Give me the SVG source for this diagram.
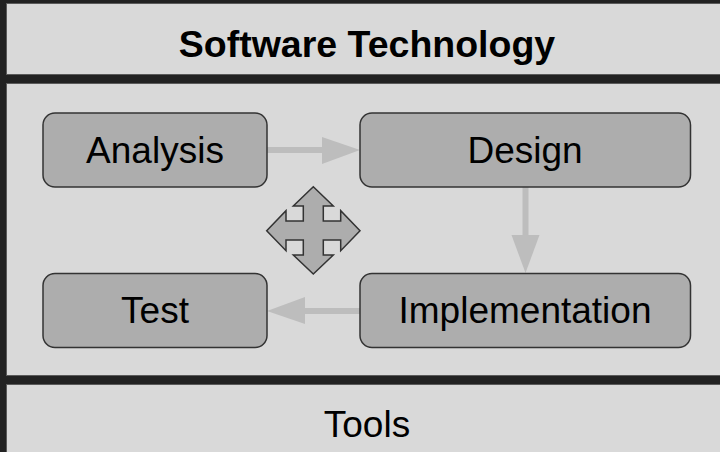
<svg xmlns="http://www.w3.org/2000/svg" width="720" height="452" viewBox="0 0 720 452">
<style>
.panel{fill:#d9d9d9;stroke:#5a5a5a;stroke-width:1}
.node{fill:#adadad;stroke:#333;stroke-width:1.5}
.t{font-family:"Liberation Sans",Arial,sans-serif;font-size:37px;fill:#000;text-anchor:middle}
.b{font-weight:bold;font-size:37.5px}
.conn{stroke:#bdbdbd;stroke-width:6;fill:none}
.head{fill:#bdbdbd}
</style>
<rect x="0" y="0" width="720" height="452" fill="#222"/>
<g id="title">
<rect class="panel" x="6.5" y="3.5" width="730" height="71"/>
<text class="t b" x="367" y="57">Software Technology</text>
</g>
<g id="process">
<rect class="panel" x="6.5" y="83.5" width="730" height="292"/>
</g>
<g id="tools">
<rect class="panel" x="6.5" y="384.5" width="730" height="80"/>
<text class="t" x="367" y="437">Tools</text>
</g>
<g id="connectors">
<line class="conn" x1="267" y1="150" x2="324" y2="150"/>
<polygon class="head" points="322,137 360,150 322,164"/>
<line class="conn" x1="525.5" y1="187" x2="525.5" y2="237"/>
<polygon class="head" points="511.5,235 539.5,235 525.5,273"/>
<line class="conn" x1="360" y1="311" x2="303" y2="311"/>
<polygon class="head" points="305,297 305,324 267,311"/>
</g>
<g id="analysis">
<rect class="node" x="43" y="113" width="224" height="74" rx="12"/>
<text class="t" x="155" y="163">Analysis</text>
</g>
<g id="design">
<rect class="node" x="360" y="113" width="330.5" height="74" rx="12"/>
<text class="t" x="525" y="163">Design</text>
</g>
<g id="test">
<rect class="node" x="43" y="273.5" width="224" height="74" rx="12"/>
<text class="t" x="155" y="323">Test</text>
</g>
<g id="implementation">
<rect class="node" x="360" y="273.5" width="330.5" height="74" rx="12"/>
<text class="t" x="525" y="323">Implementation</text>
</g>
<g id="move-icon">
<polygon fill="#adadad" stroke="#333" stroke-width="1.5" stroke-linejoin="miter" points="313.3,186.7 333.3,206 323.3,206 323.3,221 340.7,221 340.7,210.7 360,230.7 340.7,250.7 340.7,240 323.3,240 323.3,255 333.3,255 313.3,274 293.3,255 303.3,255 303.3,240 286,240 286,250.7 266.7,230.7 286,210.7 286,221 303.3,221 303.3,206 293.3,206"/>
</g>
</svg>
